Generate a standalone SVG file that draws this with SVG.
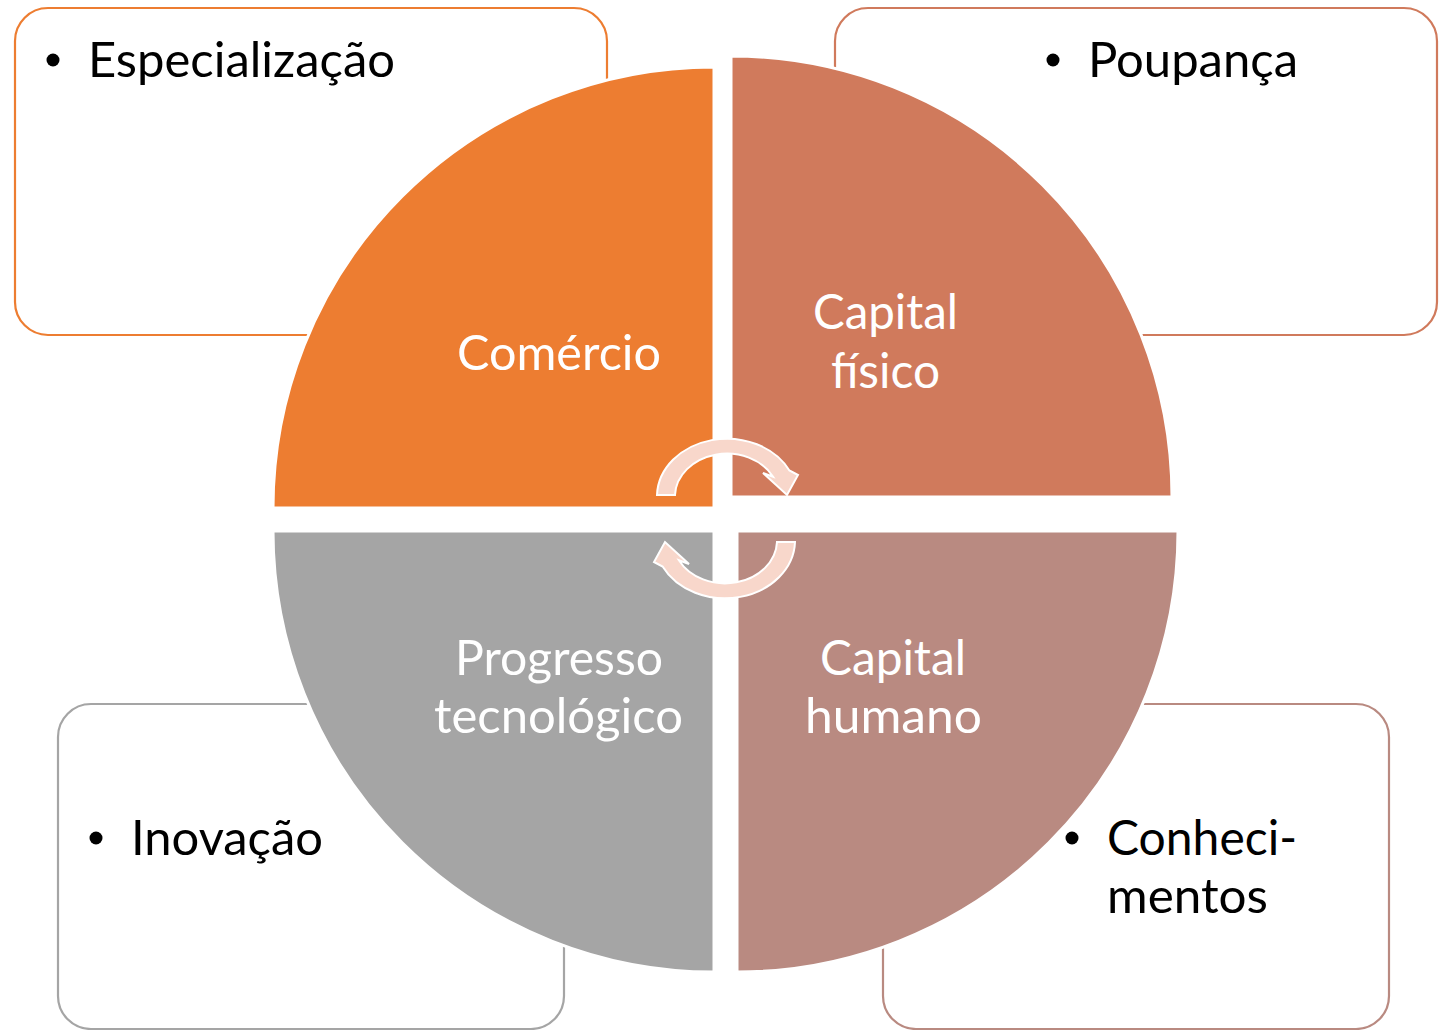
<svg xmlns="http://www.w3.org/2000/svg" width="1445" height="1030" viewBox="0 0 1445 1030">
<style>
.box{fill:#FFFFFF;stroke-width:2.2}
.wedge{stroke:#FFFFFF;stroke-width:3}
.wt{font-family:Lato,"Open Sans","Liberation Sans",sans-serif;font-size:48px;fill:#FFFFFF;text-anchor:middle}
.bt{font-family:Lato,"Open Sans","Liberation Sans",sans-serif;font-size:48px;fill:#000000}
.arrow{fill:#F8D7CB;stroke:#FFFFFF;stroke-width:2}
</style>
<defs>
<path id="arr" d="M657,495 A70,58 0 0 1 789.4,470.5 L798,475 L787,495 L763,473 L773.1,476.8 A52,43 0 0 0 675,495 Z"/>
</defs>
<rect width="1445" height="1030" fill="#FFFFFF"/>
<g id="box-especializacao">
<rect class="box" x="15" y="8" width="592" height="327" rx="33" stroke="#ED7D31"/>
<circle cx="53" cy="60" r="6.5" fill="#000"/>
<text class="bt" x="88" y="77" textLength="307" lengthAdjust="spacingAndGlyphs">Especialização</text>
</g>
<g id="box-poupanca">
<rect class="box" x="835" y="8" width="602" height="327" rx="33" stroke="#D07A5C"/>
<circle cx="1053" cy="60" r="6.5" fill="#000"/>
<text class="bt" x="1088" y="77" textLength="210" lengthAdjust="spacingAndGlyphs">Poupança</text>
</g>
<g id="box-inovacao">
<rect class="box" x="58" y="704" width="506" height="325" rx="33" stroke="#A5A5A5"/>
<circle cx="96" cy="838" r="6.5" fill="#000"/>
<text class="bt" x="131" y="855" textLength="192" lengthAdjust="spacingAndGlyphs">Inovação</text>
</g>
<g id="box-conhecimentos">
<rect class="box" x="883" y="704" width="506" height="325" rx="33" stroke="#B98A81"/>
<circle cx="1072" cy="838" r="6.5" fill="#000"/>
<text class="bt" x="1107" y="855" textLength="190" lengthAdjust="spacingAndGlyphs">Conheci-</text>
<text class="bt" x="1107" y="913" textLength="161" lengthAdjust="spacingAndGlyphs">mentos</text>
</g>
<g id="wedge-comercio">
<path class="wedge" fill="#ED7D31" d="M714,508 L273,508 A441,441 0 0 1 714,67 Z"/>
<text class="wt" x="559" y="370" textLength="204" lengthAdjust="spacingAndGlyphs">Comércio</text>
</g>
<g id="wedge-capital-fisico">
<path class="wedge" fill="#D07A5C" d="M731,497 L731,56 A441,441 0 0 1 1172,497 Z"/>
<text class="wt" x="885.5" y="329" textLength="145" lengthAdjust="spacingAndGlyphs">Capital</text>
<text class="wt" x="885.5" y="388" textLength="109" lengthAdjust="spacingAndGlyphs">físico</text>
</g>
<g id="wedge-progresso">
<path class="wedge" fill="#A5A5A5" d="M714,531 L714,972 A441,441 0 0 1 273,531 Z"/>
<text class="wt" x="559" y="675" textLength="208" lengthAdjust="spacingAndGlyphs">Progresso</text>
<text class="wt" x="558.5" y="733" textLength="249" lengthAdjust="spacingAndGlyphs">tecnológico</text>
</g>
<g id="wedge-capital-humano">
<path class="wedge" fill="#B98A81" d="M737,531 L1178,531 A441,441 0 0 1 737,972 Z"/>
<text class="wt" x="893" y="675" textLength="146" lengthAdjust="spacingAndGlyphs">Capital</text>
<text class="wt" x="893.5" y="733" textLength="177" lengthAdjust="spacingAndGlyphs">humano</text>
</g>
<g id="connectors">
<use href="#arr" class="arrow"/>
<use href="#arr" class="arrow" transform="rotate(180 726 518.5)"/>
</g>
</svg>
